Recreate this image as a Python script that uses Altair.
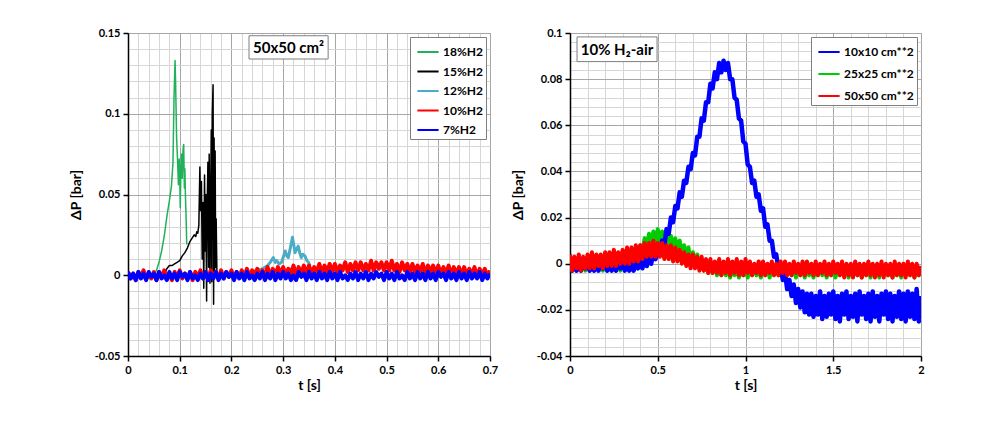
import altair as alt
import pandas as pd

FONT = "Lato"
MAJOR = "#a6a6a6"
MINOR = "#d6d6d6"

# ---------------- left panel: 50x50 cm2 ----------------
left_series = ["18%H2", "15%H2", "12%H2", "10%H2", "7%H2"]
left_colors = ["#1fb25a", "#000000", "#4bacc6", "#ff0000", "#0000ff"]
left_widths = [1.5, 1.5, 3.0, 4.0, 4.0]

g18_t = [0.050, 0.055, 0.060, 0.065, 0.070, 0.075, 0.080, 0.084, 0.087, 0.089, 0.091, 0.092, 0.094, 0.096,
         0.0975, 0.099, 0.100, 0.101, 0.1025, 0.1035, 0.105, 0.1065, 0.1077, 0.109, 0.110, 0.111, 0.1123, 0.1136]
g18_p = [0.000, 0.003, 0.008, 0.015, 0.024, 0.036, 0.046, 0.055, 0.070, 0.110, 0.133, 0.120, 0.085, 0.070,
         0.056, 0.072, 0.062, 0.042, 0.068, 0.075, 0.060, 0.078, 0.081, 0.054, 0.066, 0.050, 0.036, 0.019]

b15_t = [0.071, 0.075, 0.080, 0.085, 0.090, 0.095, 0.100, 0.105, 0.110, 0.115, 0.120, 0.124, 0.128, 0.131,
         0.133, 0.135, 0.137, 0.139, 0.1405, 0.142, 0.1435, 0.145, 0.1465, 0.148, 0.149, 0.1505, 0.152, 0.153,
         0.1545, 0.156, 0.157, 0.1585, 0.160, 0.161, 0.162, 0.163, 0.1645, 0.1655, 0.1665, 0.1675, 0.1685,
         0.1695, 0.1705, 0.172]
b15_p = [0.001, 0.004, 0.006, 0.006, 0.007, 0.008, 0.009, 0.012, 0.014, 0.017, 0.021, 0.023, 0.025, 0.024,
         0.027, 0.026, 0.031, 0.067, 0.040, 0.058, 0.010, 0.045, -0.008, 0.062, 0.015, 0.050, -0.016, 0.040,
         0.070, 0.005, 0.075, -0.005, 0.055, 0.090, -0.004, 0.100, 0.118, -0.018, 0.085, 0.000, 0.077,
         0.005, 0.035, 0.000]

c12_t = [0.240, 0.250, 0.260, 0.265, 0.270, 0.275, 0.281, 0.285, 0.288, 0.292, 0.297, 0.300, 0.304, 0.307,
         0.310, 0.314, 0.318, 0.321, 0.323, 0.326, 0.329, 0.332, 0.335, 0.338, 0.342, 0.346, 0.349, 0.352]
c12_p = [0.002, 0.003, 0.004, 0.005, 0.006, 0.008, 0.011, 0.008, 0.009, 0.007, 0.008, 0.011, 0.015, 0.012,
         0.011, 0.017, 0.0235, 0.018, 0.014, 0.016, 0.018, 0.014, 0.011, 0.013, 0.012, 0.009, 0.008, 0.006]

# sampled every 5 ms (0 .. 0.7 s), upper/lower edges of the noisy band
left_t = [round(i * 0.005, 3) for i in range(141)]
r10_p = [0.002, -0.002, 0.001, -0.003, 0.002, -0.001, 0.003, -0.002, 0.001, -0.002,
         0.002, -0.003, 0.002, -0.001, 0.003, -0.002, 0.001, -0.003, 0.002, -0.001,
         0.003, -0.002, 0.001, -0.002, 0.002, -0.003, 0.002, -0.001, 0.003, -0.002,
         0.002, -0.002, 0.003, -0.001, 0.002, -0.002, 0.003, -0.002, 0.002, -0.001,
         0.003, -0.002, 0.002, -0.001, 0.003, -0.001, 0.004, -0.001, 0.003, 0.000,
         0.004, -0.001, 0.003, 0.000, 0.005, -0.001, 0.004, 0.000, 0.005, 0.001,
         0.005, 0.000, 0.004, 0.001, 0.006, 0.000, 0.005, 0.001, 0.006, 0.001,
         0.006, 0.001, 0.005, 0.002, 0.007, 0.001, 0.006, 0.002, 0.007, 0.002,
         0.007, 0.002, 0.006, 0.003, 0.008, 0.002, 0.007, 0.003, 0.008, 0.003,
         0.008, 0.003, 0.007, 0.003, 0.009, 0.003, 0.008, 0.004, 0.008, 0.003,
         0.008, 0.003, 0.009, 0.003, 0.007, 0.002, 0.008, 0.003, 0.007, 0.002,
         0.007, 0.002, 0.006, 0.002, 0.007, 0.001, 0.006, 0.002, 0.006, 0.001,
         0.006, 0.001, 0.005, 0.001, 0.006, 0.000, 0.005, 0.001, 0.005, 0.000,
         0.005, 0.000, 0.004, 0.000, 0.005, -0.001, 0.004, 0.000, 0.004, -0.001,
         0.003]
b7_p = [0.002, -0.002, 0.001, -0.003, 0.002, -0.002, 0.001, -0.003, 0.002, -0.001,
        0.001, -0.003, 0.002, -0.002, 0.000, -0.003, 0.002, -0.002, 0.001, -0.003,
        0.002, -0.001, 0.001, -0.003, 0.002, -0.002, 0.000, -0.003, 0.001, -0.002,
        0.002, -0.003, 0.001, -0.002, 0.002, -0.003, 0.001, -0.002, 0.002, -0.001,
        0.001, -0.003, 0.002, -0.002, 0.001, -0.003, 0.002, -0.002, 0.000, -0.003,
        0.001, -0.002, 0.002, -0.003, 0.001, -0.002, 0.002, -0.003, 0.001, -0.002,
        0.002, -0.002, 0.001, -0.003, 0.000, -0.003, 0.002, -0.001, 0.001, -0.003,
        0.002, -0.002, 0.001, -0.003, 0.002, -0.002, 0.001, -0.003, 0.002, -0.002,
        0.001, -0.003, 0.002, -0.002, 0.000, -0.003, 0.001, -0.002, 0.002, -0.003,
        0.001, -0.002, 0.002, -0.003, 0.001, -0.002, 0.002, -0.001, 0.001, -0.003,
        0.002, -0.002, 0.001, -0.003, 0.002, -0.002, 0.000, -0.003, 0.002, -0.002,
        0.001, -0.003, 0.002, -0.002, 0.001, -0.003, 0.002, -0.002, 0.001, -0.003,
        0.002, -0.001, 0.001, -0.003, 0.002, -0.002, 0.001, -0.003, 0.002, -0.002,
        0.001, -0.003, 0.002, -0.002, 0.001, -0.002, 0.002, -0.003, 0.001, -0.002,
        0.001]

# ---------------- right panel: 10% H2-air ----------------
right_series = ["10x10 cm**2", "25x25 cm**2", "50x50 cm**2"]
right_colors = ["#0000ff", "#00cc00", "#ff0000"]
right_widths = [4.5, 4.0, 4.0]

# sampled every 12.5 ms (0 .. 2 s), upper/lower edges of the noisy band
right_t = [round(i * 0.0125, 4) for i in range(161)]
s10_p = [0.001, -0.003, 0.001, -0.003, 0.000, -0.003, 0.001, -0.002, 0.001, -0.003,
         0.000, -0.003, 0.001, -0.003, 0.001, -0.002, 0.001, -0.003, 0.000, -0.003,
         0.001, -0.003, 0.001, -0.002, 0.001, -0.003, 0.000, -0.003, 0.001, -0.003,
         0.001, -0.002, 0.002, -0.002, 0.003, -0.001, 0.004, 0.000, 0.005, 0.002,
         0.007, 0.004, 0.010, 0.008, 0.015, 0.013, 0.020, 0.018, 0.025, 0.024,
         0.031, 0.029, 0.036, 0.035, 0.042, 0.041, 0.048, 0.047, 0.055, 0.055,
         0.063, 0.062, 0.070, 0.070, 0.078, 0.076, 0.083, 0.080, 0.087, 0.083,
         0.088, 0.084, 0.087, 0.080, 0.080, 0.072, 0.071, 0.063, 0.062, 0.053,
         0.052, 0.043, 0.042, 0.035, 0.036, 0.029, 0.030, 0.023, 0.024, 0.016,
         0.017, 0.010, 0.010, 0.003, 0.004, -0.002, -0.001, -0.007, -0.004, -0.011,
         -0.007, -0.014, -0.009, -0.017, -0.011, -0.019, -0.012, -0.021, -0.013, -0.022,
         -0.013, -0.023, -0.014, -0.022, -0.012, -0.024, -0.014, -0.023, -0.013, -0.022,
         -0.012, -0.024, -0.014, -0.025, -0.013, -0.022, -0.012, -0.024, -0.014, -0.023,
         -0.013, -0.025, -0.012, -0.022, -0.014, -0.024, -0.013, -0.025, -0.012, -0.023,
         -0.014, -0.025, -0.013, -0.022, -0.012, -0.024, -0.013, -0.025, -0.014, -0.023,
         -0.012, -0.024, -0.013, -0.025, -0.012, -0.023, -0.013, -0.024, -0.011, -0.025,
         -0.014]
s25_p = [0.001, -0.003, 0.000, -0.003, 0.001, -0.002, 0.001, -0.003, 0.000, -0.003,
         0.001, -0.003, 0.001, -0.002, 0.000, -0.003, 0.001, -0.003, 0.001, -0.002,
         0.000, -0.003, 0.001, -0.003, 0.001, -0.002, 0.002, -0.002, 0.004, 0.000,
         0.006, 0.003, 0.008, 0.005, 0.011, 0.007, 0.013, 0.008, 0.014, 0.009,
         0.015, 0.010, 0.014, 0.009, 0.014, 0.008, 0.012, 0.007, 0.011, 0.006,
         0.010, 0.004, 0.008, 0.003, 0.007, 0.001, 0.005, 0.000, 0.004, -0.001,
         0.002, -0.003, 0.001, -0.004, 0.000, -0.004, -0.001, -0.005, -0.001, -0.005,
         -0.002, -0.005, -0.001, -0.006, -0.002, -0.005, -0.002, -0.006, -0.001, -0.005,
         -0.002, -0.006, -0.002, -0.005, -0.001, -0.005, -0.002, -0.006, -0.002, -0.005,
         -0.001, -0.006, -0.002, -0.005, -0.002, -0.005, -0.001, -0.006, -0.002, -0.005,
         -0.002, -0.005, -0.001, -0.006, -0.002, -0.005, -0.002, -0.006, -0.001, -0.005,
         -0.002, -0.006, -0.002, -0.005, -0.001, -0.005, -0.002, -0.006, -0.002, -0.005,
         -0.001, -0.006, -0.002, -0.005, -0.002, -0.005, -0.001, -0.006, -0.002, -0.005,
         -0.002, -0.005, -0.001, -0.006, -0.002, -0.005, -0.002, -0.006, -0.001, -0.005,
         -0.002, -0.006, -0.002, -0.005, -0.001, -0.005, -0.002, -0.006, -0.002, -0.005,
         -0.001, -0.006, -0.002, -0.005, -0.002, -0.005, -0.001, -0.006, -0.002, -0.005,
         -0.002]
s50_p = [0.004, -0.003, 0.003, -0.002, 0.004, -0.003, 0.003, -0.002,
         0.004, -0.002, 0.005, -0.002, 0.004, -0.001, 0.004, -0.002,
         0.005, -0.001, 0.005, -0.001, 0.006, -0.001, 0.005, 0.000,
         0.006, 0.000, 0.007, 0.000, 0.007, 0.001, 0.008, 0.001,
         0.008, 0.002, 0.009, 0.003, 0.009, 0.003, 0.010, 0.003, 0.009, 0.003, 0.009, 0.002,
         0.008, 0.002, 0.008, 0.001, 0.007, 0.001, 0.006, 0.000,
         0.005, -0.001, 0.004, -0.002, 0.004, -0.002, 0.003, -0.003,
         0.003, -0.003, 0.002, -0.004, 0.002, -0.004,
         0.001, -0.004, 0.002, -0.005, 0.001, -0.004, 0.002, -0.005,
         0.001, -0.004, 0.002, -0.005, 0.001, -0.005, 0.002, -0.004,
         0.001, -0.005, 0.000, -0.004, 0.001, -0.005, 0.001, -0.005, 0.000, -0.004,
         0.001, -0.005, 0.000, -0.005, 0.001, -0.004, 0.001, -0.005, 0.000, -0.005,
         0.001, -0.004, 0.000, -0.005, 0.001, -0.005, 0.001, -0.004, 0.000, -0.005,
         0.001, -0.005, 0.000, -0.004, 0.001, -0.005, 0.000, -0.005, 0.001, -0.004,
         0.000, -0.005, 0.001, -0.006, 0.000, -0.005, 0.000, -0.006, 0.001, -0.005,
         0.000, -0.006, 0.000, -0.005, 0.001, -0.005, 0.000, -0.006, 0.000, -0.005,
         0.001, -0.006, 0.000, -0.005, 0.000, -0.006, 0.001, -0.005, 0.000, -0.005,
         0.000, -0.006, 0.001, -0.005, 0.000, -0.006, 0.000, -0.005, -0.001]

# grid / tick values
left_x_vals = [round(i * 0.02, 2) for i in range(36)]
left_y_vals = [round(-0.05 + i * 0.01, 2) for i in range(21)]
right_x_vals = [round(i * 0.1, 1) for i in range(21)]
right_y_vals = [round(-0.04 + i * 0.004, 3) for i in range(36)]

# annotation boxes (data coordinates)
left_note = pd.DataFrame({"x1": [0.234], "x2": [0.387], "y1": [0.1339], "y2": [0.1483],
                          "xc": [0.3105], "yc": [0.1408], "txt": ["50x50 cm²"]})
right_note = pd.DataFrame({"x1": [0.04], "x2": [0.496], "y1": [0.0876], "y2": [0.0983],
                           "xc": [0.268], "yc": [0.0928], "txt": ["10% H₂-air"]})


def build_df(items):
    frames = []
    for name, ts, ps in items:
        frames.append(pd.DataFrame({"t": ts, "p": ps, "series": name}))
    return pd.concat(frames, ignore_index=True)


left_df = build_df([("18%H2", g18_t, g18_p), ("15%H2", b15_t, b15_p), ("12%H2", c12_t, c12_p),
                    ("10%H2", left_t, r10_p), ("7%H2", left_t, b7_p)])
right_df = build_df([("10x10 cm**2", right_t, s10_p), ("25x25 cm**2", right_t, s25_p),
                     ("50x50 cm**2", right_t, s50_p)])


def make_axis(values, test, title, title_pad):
    label_expr = ("(" + test + ") ? (abs(datum.value) < 1e-9 ? '0' : "
                  "replace(format(datum.value, '~g'), '\u2212', '-')) : ''")
    return alt.Axis(values=values, title=title, labelExpr=label_expr, grid=True,
                    gridColor={"condition": {"test": test, "value": MAJOR}, "value": MINOR},
                    gridWidth=1,
                    tickOpacity={"condition": {"test": test, "value": 1}, "value": 0},
                    tickColor="black", tickSize=5, tickWidth=1.5,
                    domainColor="black", domainWidth=1.5,
                    labelOverlap=False, labelFlush=False, labelPadding=3,
                    titlePadding=title_pad)


def panel(df, series, colors, widths, draw_order, x_dom, y_dom, x_axis, y_axis, note,
          width, height, row_pad):
    xs = alt.Scale(domain=x_dom, nice=False, zero=False)
    ys = alt.Scale(domain=y_dom, nice=False, zero=False)
    legend = alt.Legend(orient="top-right", offset=4, fillColor="white", strokeColor="#7f7f7f",
                        padding=3, symbolOffset=3, symbolType="stroke", symbolSize=450,
                        symbolStrokeWidth=2, labelFont=FONT, labelFontSize=12,
                        labelFontWeight="bold", labelColor="black", rowPadding=row_pad,
                        labelOffset=3, title=None)
    color = alt.Color("series:N", scale=alt.Scale(domain=series, range=colors), legend=legend)
    layers = []
    for s in draw_order:
        w = widths[series.index(s)]
        layers.append(
            alt.Chart(df).transform_filter(alt.datum.series == s)
            .mark_line(strokeWidth=w, clip=True, strokeJoin="round")
            .encode(x=alt.X("t:Q", scale=xs, axis=x_axis),
                    y=alt.Y("p:Q", scale=ys, axis=y_axis),
                    color=color)
        )
    box = alt.Chart(note).mark_rect(fill="white", stroke="#7f7f7f", strokeWidth=1).encode(
        x=alt.X("x1:Q", scale=xs, axis=x_axis), x2="x2:Q",
        y=alt.Y("y1:Q", scale=ys, axis=y_axis), y2="y2:Q")
    txt = alt.Chart(note).mark_text(font=FONT, fontSize=15, fontWeight="bold", color="black",
                                    baseline="middle", align="center").encode(
        x=alt.X("xc:Q", scale=xs, axis=x_axis),
        y=alt.Y("yc:Q", scale=ys, axis=y_axis), text="txt:N")
    return alt.layer(*layers, box, txt).properties(width=width, height=height)


left_xt = "abs(datum.value*10 - round(datum.value*10)) < 0.001"
left_yt = "abs(datum.value*20 - round(datum.value*20)) < 0.001"
right_xt = "abs(datum.value*2 - round(datum.value*2)) < 0.001"
right_yt = "abs(datum.value*50 - round(datum.value*50)) < 0.001"

left = panel(left_df, left_series, left_colors, left_widths,
             ["18%H2", "15%H2", "12%H2", "10%H2", "7%H2"],
             [0, 0.7], [-0.05, 0.15],
             make_axis(left_x_vals, left_xt, "t [s]", 3),
             make_axis(left_y_vals, left_yt, "ΔP [bar]", 11),
             left_note, 362, 323, 1.5)

right = panel(right_df, right_series, right_colors, right_widths,
              ["25x25 cm**2", "10x10 cm**2", "50x50 cm**2"],
              [0, 2], [-0.04, 0.1],
              make_axis(right_x_vals, right_xt, "t [s]", 3),
              make_axis(right_y_vals, right_yt, "ΔP [bar]", 11),
              right_note, 351, 323, 4)

chart = alt.hconcat(left, right, spacing=11).resolve_scale(color="independent").properties(
    padding={"left": 60, "top": 18, "right": 5, "bottom": 5},
    background="white",
).configure_axis(
    labelFont=FONT, labelFontSize=11, labelFontWeight="bold", labelColor="black",
    titleFont=FONT, titleFontSize=14, titleFontWeight="bold", titleColor="black",
).configure_view(stroke=MAJOR)

chart.save("out.html", embed_options={"renderer": "svg", "actions": False})
